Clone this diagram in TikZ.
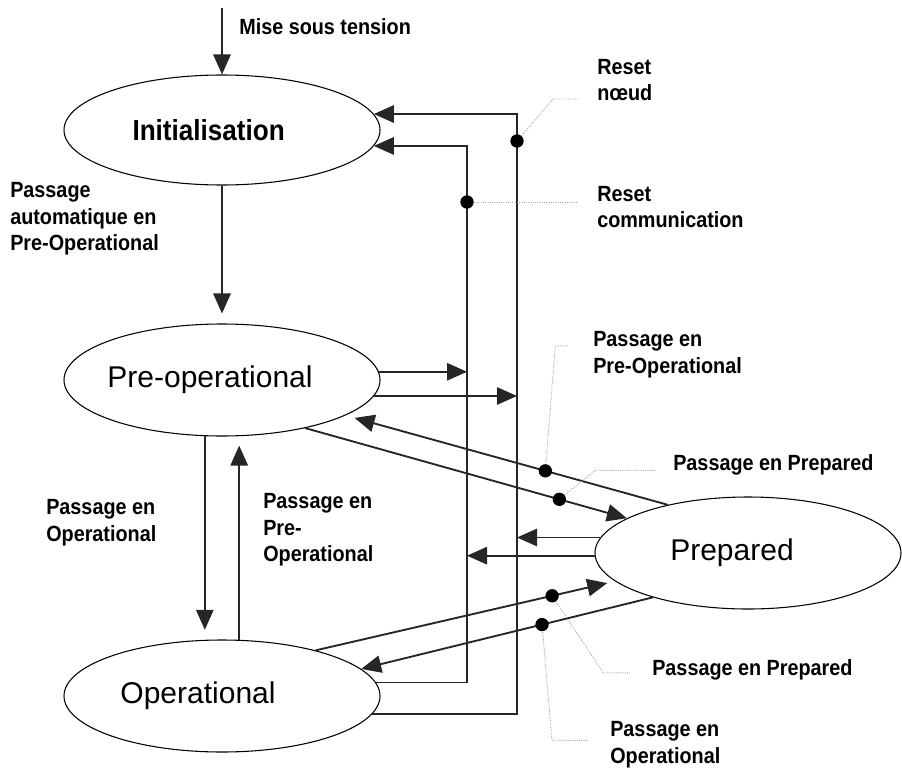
\documentclass[tikz,border=0pt]{standalone}
\usepackage{fontspec}
\setmainfont{Liberation Sans}
\newfontfamily\lblfont{Liberation Sans}[FakeStretch=0.9]
\usetikzlibrary{arrows.meta,shapes.geometric}

\begin{document}
\begin{tikzpicture}[x=0.75pt,y=0.75pt,yscale=-1,xscale=1,
    state/.style={draw,ellipse,line width=0.8pt,minimum width=237pt,minimum height=84pt,inner sep=0pt},
    statetxt/.style={inner sep=0pt,font=\fontsize{22.5}{27}\selectfont},
    lbl/.style={anchor=west,align=left,inner sep=0pt,font=\lblfont\bfseries\fontsize{16.5}{20}\selectfont},
    wire/.style={draw=black!85,line width=1.4pt},
    arr/.style={wire,-{Triangle[length=15pt,width=13pt]}},
    dot/.style={circle,fill=black,inner sep=0pt,minimum size=10pt},
    leader/.style={draw=gray!70,line width=0.7pt,densely dotted}]
        \useasboundingbox (0,0) rectangle (902,771);

        % States
        \node[state,minimum height=82.5pt] (init) at (222,130) {};
        \node[state] (pre) at (222,380) {};
        \node[state] (op) at (222,696) {};
        \node[state,minimum width=229.5pt] (prep) at (748,553) {};
        \node[statetxt,font=\lblfont\bfseries\fontsize{21.75}{26}\selectfont] (initTxt) at ([xshift=-10pt]init.center) {Initialisation};
        \node[statetxt] (preTxt) at ([xshift=-9pt]pre.center) {Pre-operational};
        \node[statetxt] (opTxt) at ([xshift=-18pt]op.center) {Operational};
        \node[statetxt] (prepTxt) at ([xshift=-12pt]prep.center) {Prepared};

        \coordinate (pwr) at (222,8);
        \coordinate (busA) at (467,0);
        \coordinate (busB) at (517,0);

        %Straight Lines
        \draw[arr] (pwr) -- (init.north);
        \draw[arr,shorten >=7.5pt] (init.south) -- (pre.north);
        \draw[arr,shorten >=7.5pt] (pre.-107) -- (op.107);
        \draw[arr,shorten >=7pt] (op.73) -- (pre.-73);

        %Reset lines
        \draw[arr] (op.5) -- (op.5 -| busA) -- (init.-6 -| busA) -- (init.-6);
        \draw[arr] (op.-7) -- (op.-7 -| busB) -- (init.6 -| busB) -- (init.6);
        \draw[arr] (pre.3) -- (pre.3 -| busA);
        \draw[arr] (pre.-6) -- (pre.-6 -| busB);
        \draw[arr] (prep.174) -- (prep.174 -| busB);
        \draw[arr] (prep.181) -- (prep.181 -| busA);
        \node[dot] (dNode) at (517,141) {};
        \node[dot] (dComm) at (467,202) {};

        %Diagonal Lines
        \draw[arr,shorten >=7pt] (prep.149) -- node[dot,pos=0.38] (dPre) {} (pre.-16);
        \draw[arr] (pre.-30) -- node[dot,pos=0.79] (dPrep1) {} (prep.164);
        \draw[arr,shorten >=6pt] (op.26) -- node[dot,pos=0.79] (dPrep2) {} (prep.192);
        \draw[arr] (prep.205) -- node[dot,pos=0.38] (dOp) {} (op.11);

        %Leaders
        \draw[leader] (dNode) -- ++(36,-42) -- ++(25,0);
        \draw[leader] (dComm) -- ++(110,0);
        \draw[leader] (dPre) -- ++(10,-125) -- ++(13,0);
        \draw[leader] (dPrep1) -- ++(36,-29) -- ++(60,0);
        \draw[leader] (dPrep2) -- ++(51,77) -- ++(27,0);
        \draw[leader] (dOp) -- ++(10,116) -- ++(35,0);

        % Text Node
        \node[lbl] (tPwr) at (239,27) {Mise sous tension};
        % Text Node
        \node[lbl] (tNode) at (597,80) {Reset\\nœud};
        % Text Node
        \node[lbl] (tComm) at (597,207) {Reset\\communication};
        % Text Node
        \node[lbl] (tAuto) at (10,219) {Passage\\automatique en\\Pre-Operational};
        % Text Node
        \node[lbl] (tToPre1) at (593,355) {Passage en\\Pre-Operational};
        % Text Node
        \node[lbl] (tToPrep1) at (673,465) {Passage en Prepared};
        % Text Node
        \node[lbl] (tToOp1) at (46,523) {Passage en\\Operational};
        % Text Node
        \node[lbl] (tToPre2) at (263,530) {Passage en\\Pre-\\Operational};
        % Text Node
        \node[lbl] (tToPrep2) at (652,670) {Passage en Prepared};
        % Text Node
        \node[lbl] (tToOp2) at (610,745) {Passage en\\Operational};

    \end{tikzpicture}
\end{document}
